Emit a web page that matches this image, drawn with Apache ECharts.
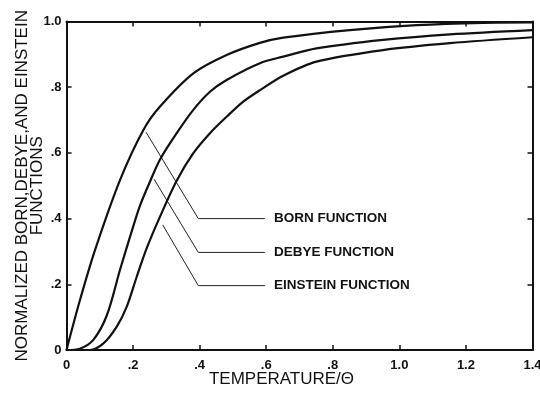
<!DOCTYPE html>
<html>
<head>
<meta charset="utf-8">
<script src="https://cdn.jsdelivr.net/npm/echarts@6/dist/echarts.min.js"></script>
<style>html,body{margin:0;padding:0;background:#fff}#c{width:540px;height:396px}</style>
</head>
<body>
<div id="c"></div>
<script>
// ---- data ----
const xTickLabels = ['0', '.2', '.4', '.6', '.8', '1.0', '1.2', '1.4'];
const yTickLabels = ['0', '.2', '.4', '.6', '.8', '1.0'];

const bornT = [0, 0.0405, 0.0856, 0.161, 0.231, 0.281, 0.381, 0.481, 0.581, 0.651, 0.851, 1.052, 1.251, 1.4];
const bornV = [0, 0.152, 0.304, 0.518, 0.670, 0.741, 0.842, 0.898, 0.935, 0.951, 0.974, 0.989, 0.996, 0.997];

const debyeT = [0, 0.04, 0.08, 0.121, 0.161, 0.191, 0.221, 0.251, 0.281, 0.331, 0.381, 0.431, 0.481, 0.581, 0.651, 0.751, 0.951, 1.152, 1.4];
const debyeV = [0, 0.004, 0.030, 0.105, 0.245, 0.345, 0.440, 0.513, 0.580, 0.660, 0.731, 0.786, 0.822, 0.873, 0.893, 0.918, 0.944, 0.961, 0.974];

const einsteinT = [0, 0.07, 0.111, 0.151, 0.181, 0.211, 0.241, 0.281, 0.331, 0.381, 0.431, 0.481, 0.531, 0.581, 0.651, 0.751, 0.951, 1.152, 1.4];
const einsteinV = [0, 0.0, 0.020, 0.071, 0.132, 0.223, 0.310, 0.406, 0.515, 0.599, 0.660, 0.710, 0.756, 0.791, 0.835, 0.878, 0.913, 0.934, 0.952];

// leader lines to the curve labels (data units)
const bornLeaderT = [0.239, 0.396, 0.596];
const bornLeaderV = [0.663, 0.400, 0.400];
const debyeLeaderT = [0.263, 0.396, 0.596];
const debyeLeaderV = [0.520, 0.297, 0.297];
const einsteinLeaderT = [0.289, 0.396, 0.596];
const einsteinLeaderV = [0.381, 0.196, 0.196];

const curveNames = ['BORN FUNCTION', 'DEBYE FUNCTION', 'EINSTEIN FUNCTION'];

// ---- build ----
const zip = (a, b) => a.map((v, i) => [v, b[i]]);
const FONT = '"Liberation Sans", Arial, sans-serif';
const INK = '#111';

function curve(name, t, v) {
  return {
    name: name, type: 'line', data: zip(t, v), showSymbol: false, symbol: 'none',
    smooth: 0.3,
    lineStyle: { color: INK, width: 2.2 }, silent: true, z: 3
  };
}
function leader(name, t, v) {
  return {
    name: name + ' leader', type: 'line', data: zip(t, v), showSymbol: false, symbol: 'none', silent: true,
    lineStyle: { color: '#222', width: 1 }, z: 2,
    endLabel: { show: true, formatter: () => name, distance: 9, color: INK,
      fontFamily: FONT, fontSize: 13.5, fontWeight: 'bold' }
  };
}

const axisCommon = {
  type: 'value', splitLine: { show: false },
  axisLine: { show: true, onZero: false, lineStyle: { color: INK, width: 2 } },
  axisTick: { show: true, inside: true, length: 5, lineStyle: { color: INK, width: 1.5 } }
};

const chart = echarts.init(document.getElementById('c'), null, { renderer: 'canvas' });
chart.setOption({
  animation: false,
  backgroundColor: '#fff',
  grid: { left: 66.5, right: 7.5, top: 21.5, bottom: 46, containLabel: false, outerBoundsMode: 'none' },
  xAxis: [
    Object.assign({}, axisCommon, {
      position: 'bottom', min: 0, max: 1.4, interval: 0.2,
      name: 'TEMPERATURE/Θ', nameLocation: 'middle', nameGap: 21, nameMoveOverlap: false,
      nameTextStyle: { fontFamily: FONT, fontSize: 17, color: INK, padding: [0, 36, 0, 0] },
      axisLabel: { margin: 9, color: INK, fontFamily: FONT, fontSize: 13, fontWeight: 'bold',
        formatter: v => xTickLabels[Math.round(v / 0.2)] }
    }),
    Object.assign({}, axisCommon, {
      position: 'top', min: 0, max: 1.4, interval: 0.2, axisLabel: { show: false }
    })
  ],
  yAxis: [
    Object.assign({}, axisCommon, {
      position: 'left', min: 0, max: 1, interval: 0.2,
      name: 'NORMALIZED BORN,DEBYE,AND EINSTEIN\nFUNCTIONS', nameLocation: 'middle', nameGap: 22,
      nameRotate: 90, nameMoveOverlap: false,
      nameTextStyle: { fontFamily: FONT, fontSize: 17, lineHeight: 15, color: INK, align: 'center' },
      axisLabel: { margin: 5, color: INK, fontFamily: FONT, fontSize: 13, fontWeight: 'bold',
        formatter: v => yTickLabels[Math.round(v / 0.2)] }
    }),
    Object.assign({}, axisCommon, {
      position: 'right', min: 0, max: 1, interval: 0.2, axisLabel: { show: false }
    })
  ],
  series: [
    curve(curveNames[0], bornT, bornV),
    curve(curveNames[1], debyeT, debyeV),
    curve(curveNames[2], einsteinT, einsteinV),
    leader(curveNames[0], bornLeaderT, bornLeaderV),
    leader(curveNames[1], debyeLeaderT, debyeLeaderV),
    leader(curveNames[2], einsteinLeaderT, einsteinLeaderV)
  ]
});
</script>
</body>
</html>
